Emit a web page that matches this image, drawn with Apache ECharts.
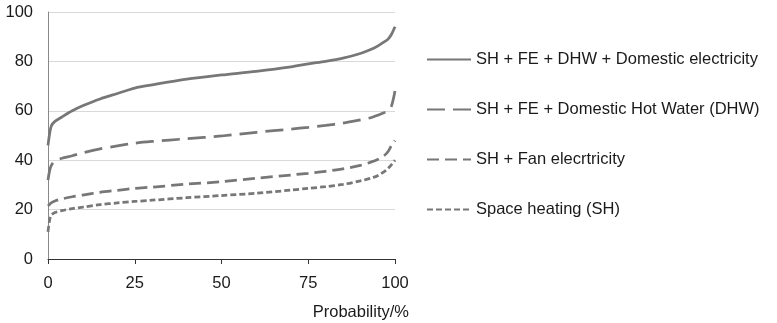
<!DOCTYPE html>
<html>
<head>
<meta charset="utf-8">
<script src="https://cdn.jsdelivr.net/npm/echarts@6/dist/echarts.min.js"></script>
<style>html,body{margin:0;padding:0;background:#fff}#c{width:777px;height:323px}</style>
</head>
<body>
<div id="c"></div>
<script>
var probability = [0, 0.5, 1, 2, 4, 7, 10, 15, 20, 25, 30, 40, 50, 60, 70, 75, 80, 85, 90, 93, 95, 97, 98, 99, 100];
var seriesNames = [
  'SH + FE + DHW + Domestic electricity',
  'SH + FE + Domestic Hot Water (DHW)',
  'SH + Fan elecrtricity',
  'Space heating (SH)'
];
var totalAll = [46, 51, 54, 55.7, 57.5, 60, 62, 64.8, 67, 69.2, 70.5, 72.8, 74.5, 76, 77.8, 79, 80, 81.3, 83.2, 84.8, 86.2, 88, 89, 91, 94];
var shFeDhw = [32, 36, 38, 39.8, 40.8, 41.8, 43, 44.6, 45.8, 46.9, 47.6, 48.7, 49.8, 51.3, 52.6, 53.3, 54.1, 55, 56.3, 57.2, 58.2, 59.3, 59.8, 62, 68];
var shFan = [21.5, 22.2, 22.8, 23.5, 24.3, 25.2, 25.9, 27, 27.8, 28.6, 29.1, 30.3, 31.3, 32.7, 34, 34.7, 35.5, 36.5, 37.9, 39.2, 40.3, 42, 43.5, 46, 48];
var spaceHeating = [11, 16, 17.8, 18.8, 19.6, 20.4, 21, 22, 22.7, 23.3, 23.8, 24.8, 25.7, 26.6, 27.9, 28.6, 29.3, 30.2, 31.6, 32.7, 33.7, 35.5, 36.7, 38.2, 40];
var xTicks = [0, 25, 50, 75, 100];
var yTicks = [0, 20, 40, 60, 80, 100];

function pairs(vals) { return probability.map(function (p, i) { return [p, vals[i]]; }); }
var lineColor = '#777777';
var dashes = ['solid', [18, 8], [12, 6], [6, 3]];
var values = [totalAll, shFeDhw, shFan, spaceHeating];
var FONT = 'Liberation Sans, Arial, sans-serif';

var chart = echarts.init(document.getElementById('c'), null, {renderer: 'canvas'});
chart.setOption({
  animation: false,
  backgroundColor: '#ffffff',
  textStyle: {fontFamily: FONT},
  grid: {left: 48, right: 382, top: 12, bottom: 64, containLabel: false},
  legend: {
    orient: 'vertical',
    left: 421,
    top: 46,
    itemWidth: 44,
    itemHeight: 14,
    itemGap: 33,
    itemStyle: {opacity: 0},
    textStyle: {fontSize: 16.5, color: '#1a1a1a', fontFamily: FONT},
    data: seriesNames
  },
  xAxis: {
    type: 'value',
    min: xTicks[0], max: xTicks[xTicks.length - 1], interval: 25,
    name: 'Probability/%',
    nameLocation: 'end',
    nameGap: 14,
    nameTextStyle: {fontSize: 16.5, color: '#1a1a1a', align: 'right', verticalAlign: 'top', padding: [45, 0, 0, 0]},
    axisLine: {show: true, lineStyle: {color: '#333333', width: 1}},
    axisTick: {show: true, length: 5, lineStyle: {color: '#333333'}},
    axisLabel: {fontSize: 16.5, color: '#1a1a1a', margin: 16},
    splitLine: {show: false}
  },
  yAxis: {
    type: 'value',
    min: yTicks[0], max: yTicks[yTicks.length - 1], interval: 20,
    axisLine: {show: true, lineStyle: {color: '#888888', width: 1}},
    axisTick: {show: false},
    axisLabel: {fontSize: 16.5, color: '#1a1a1a', margin: 15},
    splitLine: {show: true, lineStyle: {color: '#d9d9d9', width: 1}}
  },
  series: seriesNames.map(function (n, i) {
    return {
      name: n,
      type: 'line',
      data: pairs(values[i]),
      symbol: 'none',
      smooth: 0.3,
      itemStyle: {color: lineColor},
      lineStyle: {color: lineColor, width: 2.75, type: dashes[i]}
    };
  })
});
</script>
</body>
</html>
